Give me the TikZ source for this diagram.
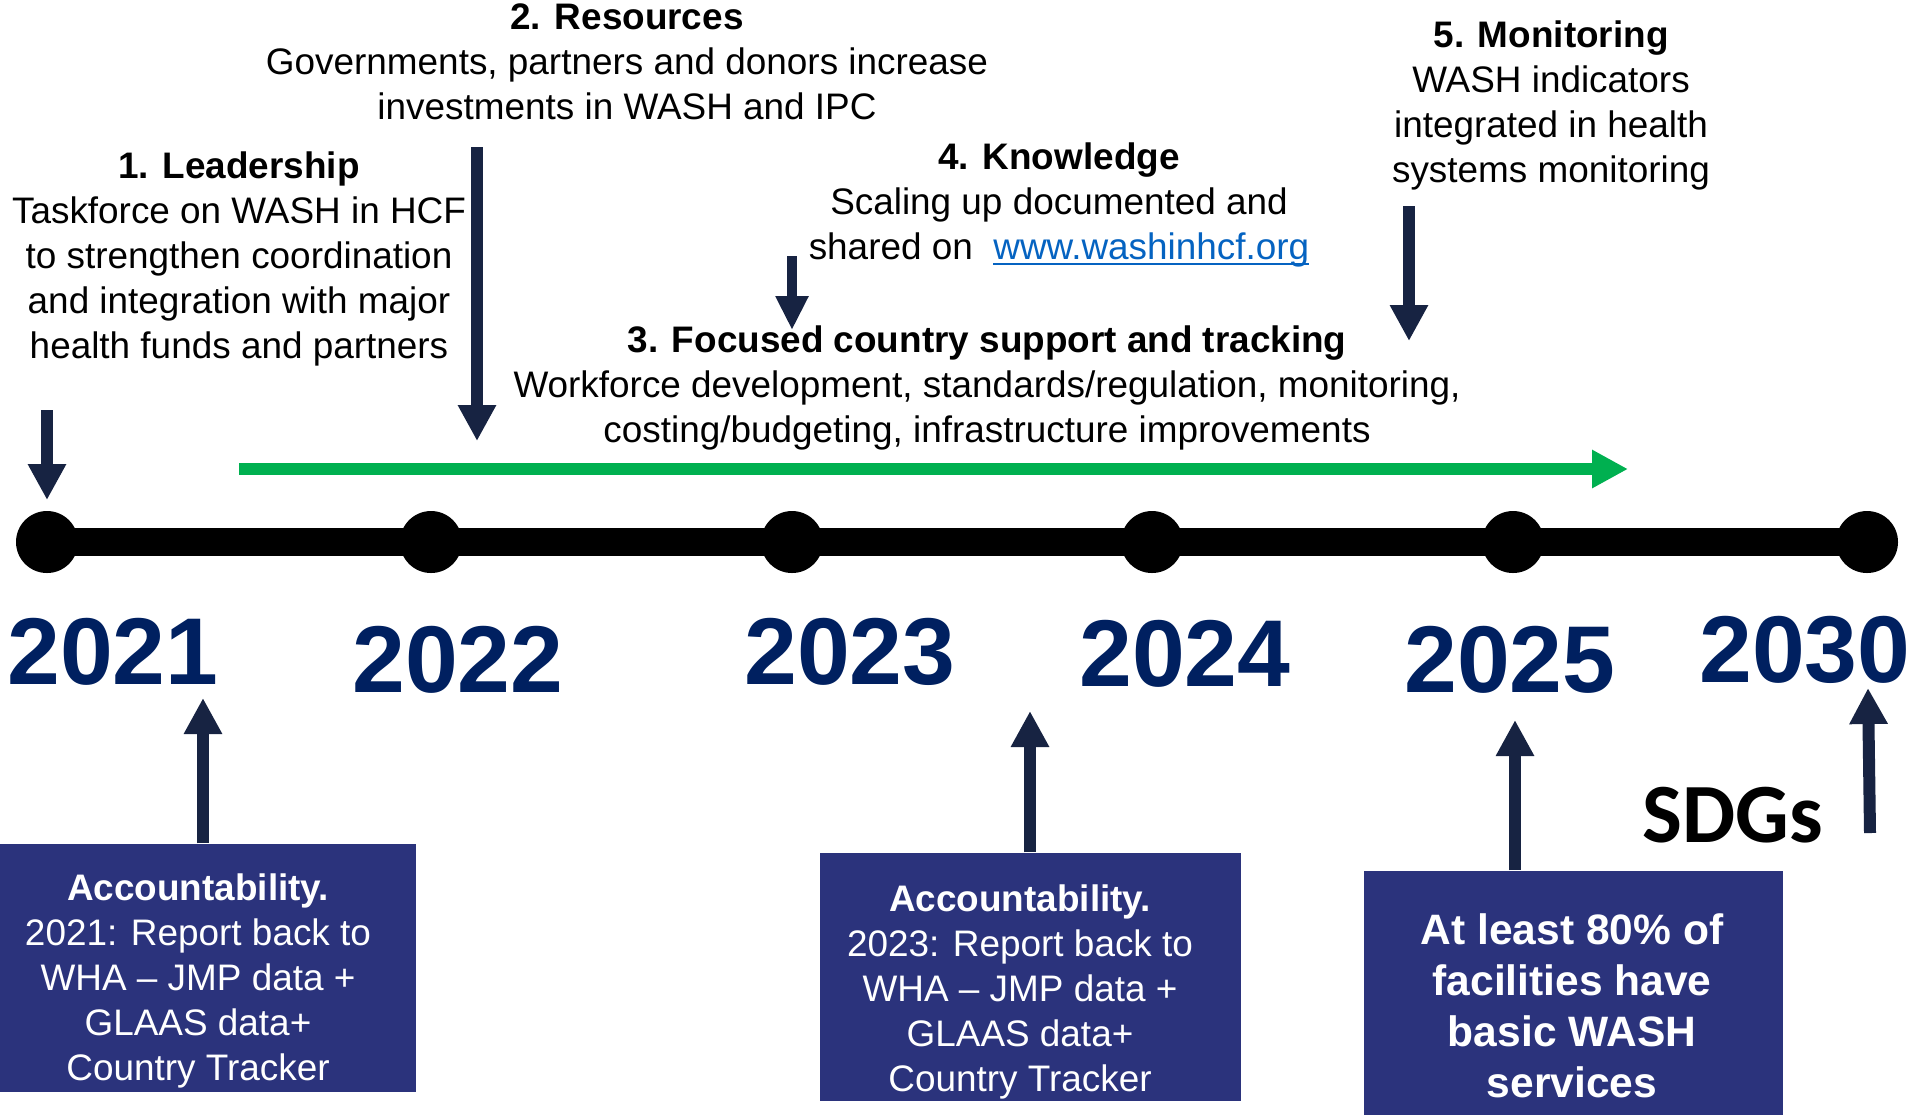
\documentclass[tikz,border=0pt]{standalone}
\usepackage{fontspec}
\setmainfont{Liberation Sans}
\newfontfamily\sdgfont{Carlito}
\usepackage{xcolor}
\usepackage{tikz}
\usetikzlibrary{arrows.meta}

\definecolor{arrownavy}{RGB}{23,35,66}
\definecolor{yearblue}{RGB}{0,32,96}
\definecolor{boxblue}{RGB}{43,51,124}
\definecolor{trackgreen}{RGB}{0,176,80}
\definecolor{linkblue}{RGB}{5,99,193}

% underlined web address, rule sits close to the baseline
\newcommand{\weblink}[1]{{\color{linkblue}\setbox0=\hbox{#1}\rlap{\rule[-0.16em]{\wd0}{0.07em}}\box0}}

\begin{document}
\begin{tikzpicture}[
  x=0.1mm, y=-0.1mm,
  txt/.style={align=center, inner sep=0pt, font=\fontsize{10.5}{12.8}\selectfont},
  year/.style={inner sep=0pt, text=yearblue, font=\fontsize{27}{30}\selectfont\bfseries},
  dot/.style={circle, fill=black, minimum size=6.2mm, inner sep=0pt},
  accbox/.style={fill=boxblue, inner sep=0pt, minimum height=24.8mm},
  acctxt/.style={txt, text=white},
  darrow/.style={draw=arrownavy, line width=1.2mm, -{Triangle[length=3.6mm, width=3.6mm]}},
]
\useasboundingbox (0,0) rectangle (1915,1115);

% timeline with the year dots
\node[dot] (d2021) at (47,542) {};
\node[dot] (d2022) at (431,542) {};
\node[dot] (d2023) at (792,542) {};
\node[dot] (d2024) at (1152,542) {};
\node[dot] (d2025) at (1513,542) {};
\node[dot] (d2030) at (1867,542) {};
\draw[line width=2.8mm] (d2021.center) -- (d2030.center);

\node[year] (y2021) at (113,652) {2021};
\node[year] (y2022) at (458,660) {2022};
\node[year] (y2023) at (850,652) {2023};
\node[year] (y2024) at (1185,654) {2024};
\node[year] (y2025) at (1510,660) {2025};
\node[year] (y2030) at (1805,650) {2030};

% country support runs across the years
\coordinate (gs) at (239,469);
\coordinate (ge) at (1628,469);
\draw[trackgreen, line width=1.2mm, -{Triangle[length=3.6mm, width=3.6mm]}] (gs) -- (ge);

% the five action areas
\node[txt] (lead) at (239,259) {\textbf{1. Leadership}\\Taskforce on WASH in HCF\\to strengthen coordination\\and integration with major\\health funds and partners};
\node[txt] (res) at (627,62) {\textbf{2. Resources}\\Governments, partners and donors increase\\investments in WASH and IPC};
\node[txt] (focus) at (987,388) {\textbf{3. Focused country support and tracking}\\Workforce development, standards/regulation, monitoring,\\costing/budgeting, infrastructure improvements};
\node[txt] (know) at (1059,205) {\textbf{4. Knowledge}\\Scaling up documented and\\shared on~~\weblink{www.washinhcf.org}};
\node[txt] (mon) at (1551,105) {\textbf{5. Monitoring}\\WASH indicators\\integrated in health\\systems monitoring};

\coordinate (lead-s) at (47,410);  \coordinate (lead-e) at (47,500);
\coordinate (res-s) at (477,147);  \coordinate (res-e) at (477,441);
\coordinate (know-s) at (792,256); \coordinate (know-e) at (792,330);
\coordinate (mon-s) at (1409,206); \coordinate (mon-e) at (1409,341);
\draw[darrow] (lead-s) -- (lead-e);
\draw[darrow] (res-s) -- (res-e);
\draw[darrow, line width=1.05mm, -{Triangle[length=3.4mm, width=3.1mm]}] (know-s) -- (know-e);
\draw[darrow] (mon-s) -- (mon-e);

% accountability and target boxes
\node[accbox, minimum width=41.6mm] (acc1) at (208,968) {};
\node[acctxt] (acc1txt) at (198,981) {\textbf{Accountability.}\\2021: Report back to\\WHA -- JMP data +\\GLAAS data+\\Country Tracker};
\node[accbox, minimum width=42.1mm] (acc2) at (1030.5,977) {};
\node[acctxt] (acc2txt) at (1020,992) {\textbf{Accountability.}\\2023: Report back to\\WHA -- JMP data +\\GLAAS data+\\Country Tracker};
\node[accbox, minimum width=41.9mm, minimum height=24.4mm] (target) at (1573.5,993) {};
\node[txt, text=white, font=\fontsize{12.1}{14.5}\selectfont\bfseries] (targettxt) at (1572,1006) {At least 80\% of\\facilities have\\basic WASH\\services};

\node[inner sep=0pt, font=\sdgfont\fontsize{24}{28}\selectfont\bfseries] (sdg) at (1733,815) {SDGs};

\coordinate (up21) at (203,698);
\coordinate (up23) at (1030,711);
\coordinate (up25) at (1515,720);
\coordinate (up30-s) at (1870,833); \coordinate (up30) at (1868,688);
\draw[darrow] (up21 |- acc1.north) -- (up21);
\draw[darrow] (up23 |- acc2.north) -- (up23);
\draw[darrow] (up25 |- target.north) -- (up25);
\draw[darrow] (up30-s) -- (up30);
\end{tikzpicture}
\end{document}
